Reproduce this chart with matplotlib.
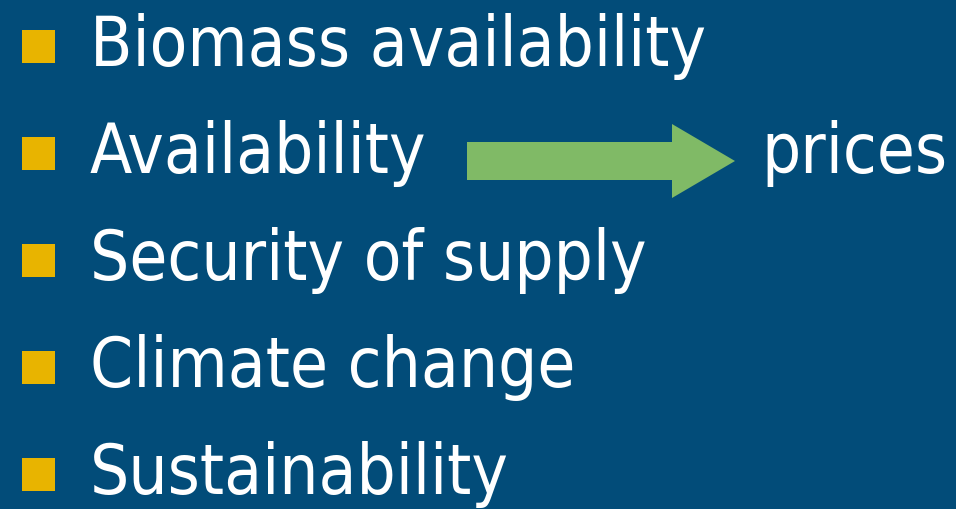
import matplotlib
matplotlib.use("Agg")
import matplotlib.pyplot as plt
from matplotlib.patches import Rectangle, Polygon

items = ["Biomass availability", "Availability", "Security of supply",
         "Climate change", "Sustainability"]
arrow_target = "prices"

BG = "#024C79"
BULLET = "#E8B400"
ARROW = "#80BA66"

W, H = 956, 510
fig = plt.figure(figsize=(W / 100, H / 100), dpi=100)
fig.patch.set_facecolor(BG)
ax = fig.add_axes([0, 0, 1, 1])
ax.set_xlim(0, W)
ax.set_ylim(H, 0)
ax.axis("off")

first_baseline = 66
spacing = 107
font = dict(family="DejaVu Sans", fontstretch="condensed", fontsize=49.5, color="white")

for i, label in enumerate(items):
    base = first_baseline + i * spacing
    ax.add_patch(Rectangle((22, base - 35), 33, 33, facecolor=BULLET, edgecolor="none"))
    ax.text(90, base, label, va="baseline", ha="left", **font)

# arrow on second line
ay = 162
ax.add_patch(Polygon([(467, 143), (672, 143), (672, 125), (735, ay),
                      (672, 199), (672, 181), (467, 181)],
                     closed=True, facecolor=ARROW, edgecolor="none"))
ax.text(761, first_baseline + spacing, arrow_target, va="baseline", ha="left", **font)

fig.savefig("out.png", dpi=100, facecolor=BG)
